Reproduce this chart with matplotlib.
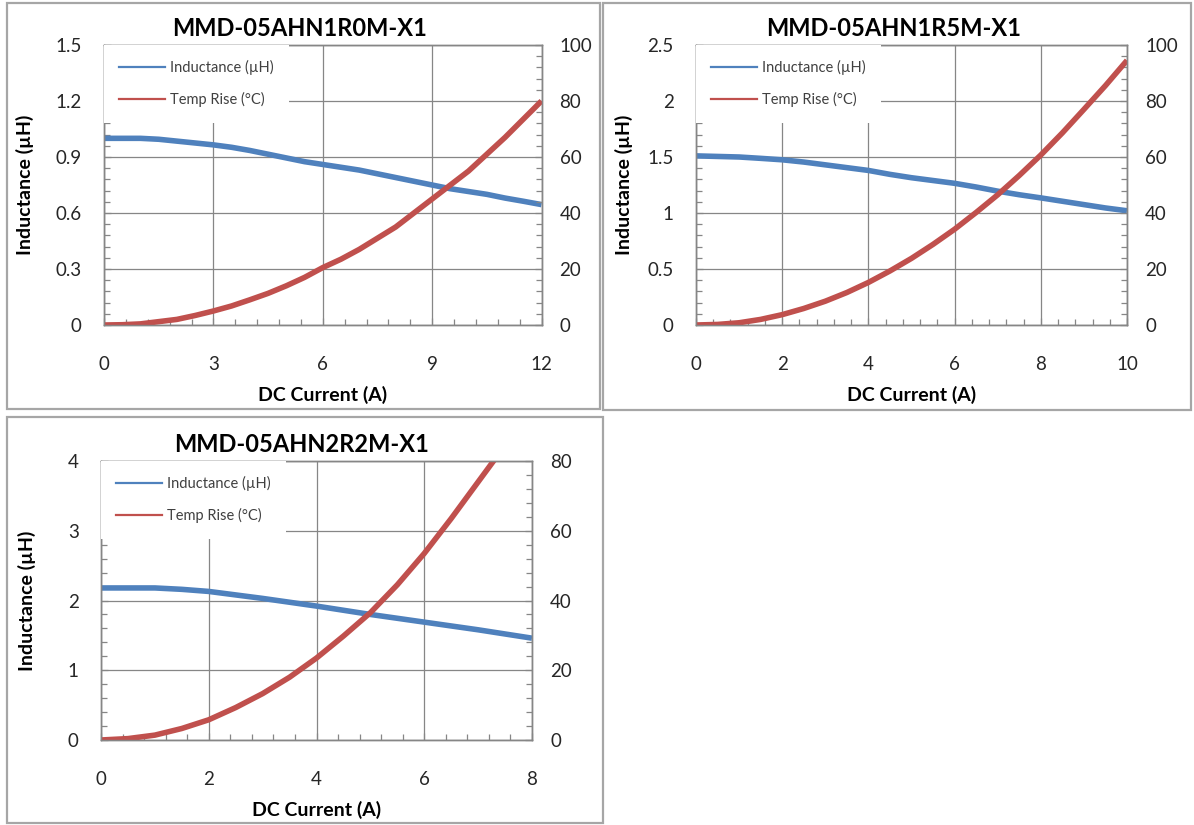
"""Inductance and temperature rise vs DC current for three MMD-05AHN parts."""

import matplotlib
matplotlib.use('Agg')
import matplotlib.pyplot as plt
from matplotlib.lines import Line2D
from matplotlib.patches import Rectangle
from matplotlib.ticker import MultipleLocator, FuncFormatter

plt.rcParams['font.family'] = ['Lato', 'DejaVu Sans']

# MMD-05AHN1R0M-X1
cur_1r0 = [0, 0.5, 1, 1.5, 2, 2.5, 3, 3.5, 4, 4.5, 5, 5.5, 6, 6.5, 7, 7.5, 8, 8.5,
           9, 9.5, 10, 10.5, 11, 11.5, 12]
ind_1r0 = [1.00, 1.00, 1.00, 0.995, 0.985, 0.975, 0.965, 0.952, 0.935, 0.915, 0.895,
           0.875, 0.86, 0.845, 0.83, 0.81, 0.79, 0.77, 0.75, 0.73, 0.715, 0.70, 0.68,
           0.663, 0.645]
temp_1r0 = [0, 0.1, 0.4, 1.2, 2.0, 3.4, 5.0, 6.8, 9.0, 11.3, 14.0, 17.0, 20.5, 23.5,
            27.0, 31.0, 35.0, 40.0, 45.0, 50.0, 55.0, 61.0, 67.0, 73.5, 80.0]

# MMD-05AHN1R5M-X1
cur_1r5 = [0, 0.5, 1, 1.5, 2, 2.5, 3, 3.5, 4, 4.5, 5, 5.5, 6, 6.5, 7, 7.5, 8, 8.5,
           9, 9.5, 10]
ind_1r5 = [1.51, 1.505, 1.50, 1.488, 1.475, 1.455, 1.43, 1.405, 1.38, 1.345, 1.315,
           1.29, 1.265, 1.232, 1.195, 1.163, 1.135, 1.105, 1.075, 1.045, 1.02]
temp_1r5 = [0, 0.2, 0.8, 2.0, 3.7, 5.9, 8.5, 11.6, 15.2, 19.3, 23.8, 28.8, 34.2, 40.2,
            46.5, 53.4, 60.7, 68.6, 77.0, 85.5, 94.5]

# MMD-05AHN2R2M-X1
cur_2r2 = [0, 0.5, 1, 1.5, 2, 2.5, 3, 3.5, 4, 4.5, 5, 5.5, 6, 6.5, 7, 7.5, 8]
ind_2r2 = [2.18, 2.18, 2.18, 2.16, 2.13, 2.08, 2.03, 1.975, 1.92, 1.86, 1.80, 1.745,
           1.69, 1.635, 1.58, 1.52, 1.46]
temp_2r2 = [0, 0.4, 1.4, 3.3, 5.8, 9.3, 13.3, 18.0, 23.5, 29.8, 36.5, 44.5, 53.5, 63.5,
            74.0, 84.5, 95.0]

BLUE = '#4F81BD'
RED = '#C0504D'
GRID = '#868686'
TXT = '#262626'

W, H = 1194, 825


def px_box(l, t, r, b):
    """Pixel box -> figure fraction [left, bottom, width, height]."""
    return [l / W, 1 - b / H, (r - l) / W, (b - t) / H]


def fmt(v, pos):
    return f'{v:g}'


def draw_panel(fig, frame, axbox, ylab_off, title, cur, ind, temp, xmax, xstep,
               lmax, lstep, tmax, tstep):
    # chart area frame
    fl, ft, fr, fb = frame
    fig.patches.append(Rectangle((fl / W, 1 - fb / H), (fr - fl) / W, (fb - ft) / H,
                                 transform=fig.transFigure, fill=False,
                                 edgecolor='#a6a6a6', linewidth=1.6))
    fig.text((fl + fr) / 2 / W - 0.003, 1 - (axbox[1] - 17) / H, title,
             ha='center', va='center', fontsize=17, fontweight='bold', color='black')

    ax = fig.add_axes(px_box(*axbox))
    ax2 = ax.twinx()
    ax_w = axbox[2] - axbox[0]
    ax_h = axbox[3] - axbox[1]

    ax.plot(cur, ind, color=BLUE, linewidth=4.0, solid_capstyle='butt',
            solid_joinstyle='round')
    ax2.plot(cur, temp, color=RED, linewidth=4.0, solid_capstyle='butt',
             solid_joinstyle='round')

    ax.set_xlim(0, xmax)
    ax.set_ylim(0, lmax)
    ax2.set_ylim(0, tmax)

    ax.xaxis.set_major_locator(MultipleLocator(xstep))
    ax.xaxis.set_minor_locator(MultipleLocator(xstep / 5))
    ax.yaxis.set_major_locator(MultipleLocator(lstep))
    ax.yaxis.set_minor_locator(MultipleLocator(lstep / 5))
    ax2.yaxis.set_major_locator(MultipleLocator(tstep))
    ax2.yaxis.set_minor_locator(MultipleLocator(tstep / 5))
    for a in (ax.xaxis, ax.yaxis, ax2.yaxis):
        a.set_major_formatter(FuncFormatter(fmt))

    ax.grid(True, which='major', color=GRID, linewidth=0.9)
    for a in (ax, ax2):
        for s in a.spines.values():
            s.set_color(GRID)
            s.set_linewidth(1.0)

    ax.tick_params(axis='both', which='both', direction='in', color=GRID,
                   labelcolor=TXT, labelsize=13.5, width=0.9)
    ax.tick_params(axis='both', which='minor', length=4)
    ax.tick_params(axis='both', which='major', length=5)
    ax.tick_params(axis='y', pad=16)
    ax.tick_params(axis='x', pad=22)
    ax2.tick_params(axis='y', which='both', direction='in', color=GRID,
                    labelcolor=TXT, labelsize=13.5, width=0.9, pad=13)
    ax2.tick_params(axis='y', which='minor', length=4)
    ax2.tick_params(axis='y', which='major', length=5)

    ax.text(0.5, -70 / ax_h, 'DC Current (A)', transform=ax.transAxes,
            ha='center', va='center', fontsize=14, fontweight='bold', color='black')
    ax.text(-ylab_off / ax_w, 0.5, 'Inductance (µH)', transform=ax.transAxes,
            rotation=90, ha='center', va='center', fontsize=14, fontweight='bold',
            color='black')

    handles = [Line2D([], [], color=BLUE, linewidth=1.6),
               Line2D([], [], color=RED, linewidth=1.6)]
    leg = ax2.legend(handles, ['Inductance (µH)', 'Temp Rise (°C)'], loc='upper left',
                     bbox_to_anchor=(0, 1), borderaxespad=0, borderpad=1.05,
                     handlelength=3.1, handletextpad=0.35, labelspacing=1.15,
                     fontsize=10.5, frameon=True, fancybox=False, framealpha=1,
                     facecolor='white', edgecolor='none', labelcolor='#404040')
    leg.set_zorder(10)
    return ax, ax2


fig = plt.figure(figsize=(W / 100, H / 100), dpi=100)
fig.patch.set_facecolor('white')

draw_panel(fig, (7, 3, 600, 409), (104, 45, 541.5, 325), 79, 'MMD-05AHN1R0M-X1',
           cur_1r0, ind_1r0, temp_1r0, 12, 3, 1.5, 0.3, 100, 20)
draw_panel(fig, (603, 3, 1191, 410), (696, 45, 1127, 325), 72, 'MMD-05AHN1R5M-X1',
           cur_1r5, ind_1r5, temp_1r5, 10, 2, 2.5, 0.5, 100, 20)
draw_panel(fig, (7, 417, 603, 823), (101, 461, 532, 740), 74, 'MMD-05AHN2R2M-X1',
           cur_2r2, ind_2r2, temp_2r2, 8, 2, 4, 1, 80, 20)

fig.savefig('out.png', dpi=100, facecolor='white')
